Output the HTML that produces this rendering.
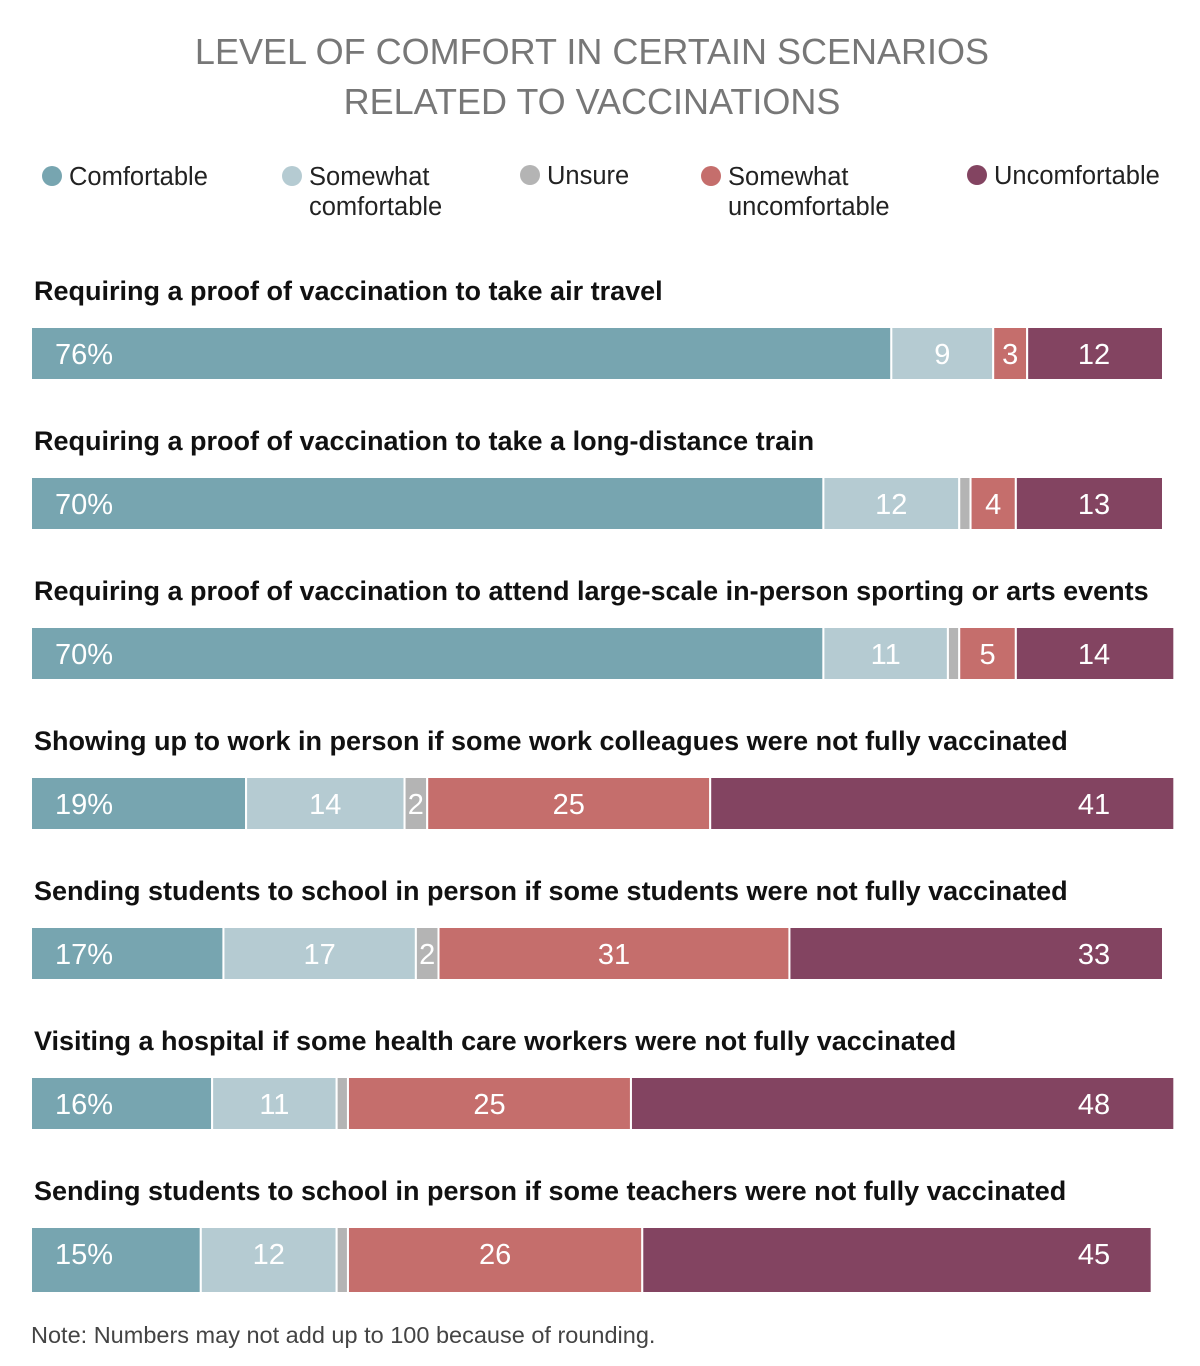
<!DOCTYPE html>
<html><head><meta charset="utf-8"><style>
body{margin:0;background:#fff;width:1200px;height:1366px;overflow:hidden;font-family:"Liberation Sans",sans-serif;}
svg{display:block}
</style></head><body>
<svg id="chart" width="1200" height="1366" xmlns="http://www.w3.org/2000/svg">
<text x="592" y="64" text-anchor="middle" font-size="36" fill="#777">LEVEL OF COMFORT IN CERTAIN SCENARIOS</text>
<text x="592" y="114" text-anchor="middle" font-size="36" fill="#777">RELATED TO VACCINATIONS</text>
<g id="legend"></g>
<g id="rows"></g>
<text x="31" y="1343" font-size="23.5" fill="#444">Note: Numbers may not add up to 100 because of rounding.</text>
</svg>
<script>
const questions=["Requiring a proof of vaccination to take air travel","Requiring a proof of vaccination to take a long-distance train","Requiring a proof of vaccination to attend large-scale in-person sporting or arts events","Showing up to work in person if some work colleagues were not fully vaccinated","Sending students to school in person if some students were not fully vaccinated","Visiting a hospital if some health care workers were not fully vaccinated","Sending students to school in person if some teachers were not fully vaccinated"];
const comfortable=[76,70,70,19,17,16,15];
const somewhat=[9,12,11,14,17,11,12];
const unsure=[0,1,1,2,2,1,1];
const somewhatUn=[3,4,5,25,31,25,26];
const uncomfortable=[12,13,14,41,33,48,45];
const seriesNames=["Comfortable","Somewhat comfortable","Unsure","Somewhat uncomfortable","Uncomfortable"];
const colors=["#77a5b0","#b5cbd2","#b4b4b4","#c56e6c","#834461"];
const NS="http://www.w3.org/2000/svg";
const x0=31,scale=11.32;
const xs=v=>x0+v*scale;
function mk(t,a,p){const e=document.createElementNS(NS,t);for(const k in a)e.setAttribute(k,a[k]);p.appendChild(e);return e;}
const lg=document.getElementById('legend');
const legX=[52,292,530,711,977];
const legLines=[["Comfortable"],["Somewhat","comfortable"],["Unsure"],["Somewhat","uncomfortable"],["Uncomfortable"]];
legLines.forEach((ls,i)=>{
 const g=mk('g',{},lg);
 
 
 mk('circle',{cx:legX[i],cy:i==2||i==4?175:176,r:10,fill:colors[i]},g);
 ls.forEach((l,j)=>{const t=mk('text',{x:legX[i]+17,y:(i==2||i==4?184:185)+j*30,'font-size':25.5,fill:'#222'},g);t.textContent=l;});
});
const rows=document.getElementById('rows');
const series=[comfortable,somewhat,unsure,somewhatUn,uncomfortable];
questions.forEach((q,r)=>{
 const g=mk('g',{},rows);
 
 
 const top=327+r*150;
 const h=r==questions.length-1?66:53;
 const t=mk('text',{x:34,y:top-27,'font-size':27,'font-weight':'bold',fill:'#111'},g);
 
 
 t.textContent=q;
 let cum=0;
 series.forEach((s,k)=>{
  const v=s[r];
  if(v>0){
   const rect=mk('rect',{x:xs(cum),y:top,width:v*scale,height:h,fill:colors[k],stroke:'#fff','stroke-width':2},g);
   
   
   if(k!=2||v>=2){
    let lx,anchor='middle',txt=String(v);
    if(k==0){lx=xs(cum)+24;anchor='start';txt=v+'%';}
    else if(k==4){lx=1094;}
    else lx=xs(cum+v/2);
    const lt=mk('text',{x:lx,y:top+37,'font-size':29,fill:'#fff','text-anchor':anchor},g);
    
    
    lt.textContent=txt;
   }
  }
  cum+=v;
 });
});
</script>
</body></html>
